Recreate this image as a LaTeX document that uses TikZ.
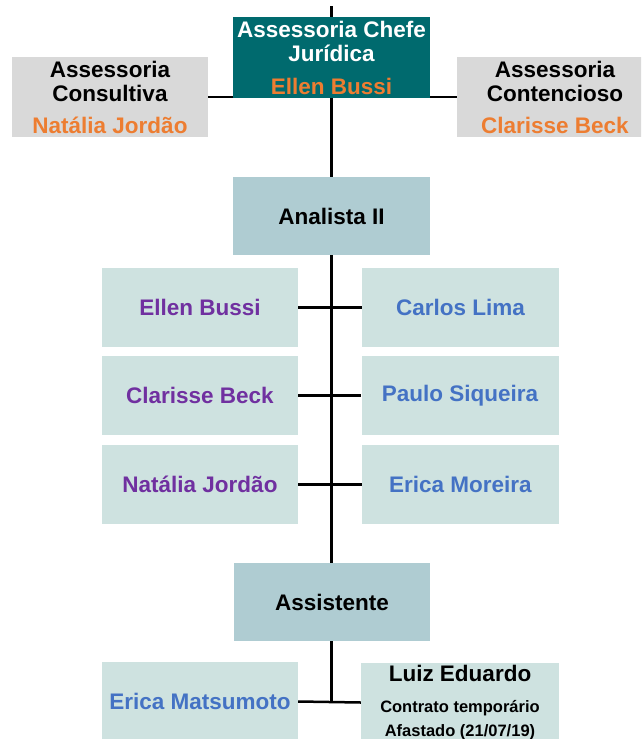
\documentclass[tikz,border=0pt]{standalone}
\usepackage{fontspec}
\setmainfont{Liberation Sans}
\usetikzlibrary{backgrounds}
\definecolor{tealbox}{HTML}{006A6E}
\definecolor{orng}{HTML}{ED7D31}
\definecolor{greyb}{HTML}{D9D9D9}
\definecolor{lvlc}{HTML}{AFCCD2}
\definecolor{rowc}{HTML}{CEE2E0}
\definecolor{purp}{HTML}{7030A0}
\definecolor{blu}{HTML}{4472C4}
\newcommand{\smallline}[1]{{\fontsize{16.5}{23}\selectfont #1}}
\begin{document}
\begin{tikzpicture}[x=1pt,y=-1pt,
  box/.style={rectangle, inner sep=0pt, minimum width=196pt, minimum height=79pt,
    align=center, font=\bfseries\fontsize{22.5}{24}\selectfont},
  headbox/.style={box, fill=tealbox, text=white},
  sidebox/.style={box, fill=greyb, text=black},
  lvlbox/.style={box, fill=lvlc, text=black},
  pbox/.style={box, fill=rowc, text=purp},
  bbox/.style={box, fill=rowc, text=blu},
  link/.style={line width=2.5pt, black}]
\useasboundingbox (0,0) rectangle (641,739);
\clip (0,0) rectangle (641,739);
\node[headbox, minimum width=197pt, minimum height=81pt] (chefe) at (331.5,57.5)
  {Assessoria Chefe\\Jurídica\\[9pt]\textcolor{orng}{Ellen Bussi}};
\node[sidebox, minimum height=80pt] (cons) at (110,97)
  {Assessoria\\Consultiva\\[8pt]\textcolor{orng}{Natália Jordão}};
\node[sidebox, minimum height=80pt] (cont) at (555,97)
  {Assessoria\\Contencioso\\[8pt]\textcolor{orng}{Clarisse Beck}};
\node[lvlbox, minimum width=197pt, minimum height=78pt] (an) at (331.5,216) {Analista II};
\node[pbox] (l1) at (200,307.5) {Ellen Bussi};
\node[bbox, minimum width=197pt] (r1) at (460.5,307.5) {Carlos Lima};
\node[pbox] (l2) at (200,395.5) {Clarisse Beck};
\node[bbox, minimum width=197pt] (r2) at (460,395.5) {Paulo Siqueira};
\node[pbox] (l3) at (200,484.5) {Natália Jordão};
\node[bbox, minimum width=197pt] (r3) at (460.5,484.5) {Erica Moreira};
\node[lvlbox, minimum height=78pt] (as) at (332,602) {Assistente};
\node[bbox] (em) at (200,701.5) {Erica Matsumoto};
\node[box, fill=rowc, text=black, minimum width=198pt] (lz) at (460,702.5)
  {Luiz Eduardo\\[7pt]\smallline{Contrato temporário}\\\smallline{Afastado (21/07/19)}};
\coordinate (topc) at (331.5,6);
\begin{scope}[on background layer]
  \fill[white] (0,0) rectangle (641,739);
  \draw[link] (topc) -- (topc |- em.east);
  \draw[link] (cons.east) -- (cont.west);
  \draw[link] (l1.east) -- (r1.west);
  \draw[link] (l2.east) -- (r2.west);
  \draw[link] (l3.east) -- (r3.west);
  \draw[link] (em.east) -- (lz.west);
\end{scope}
\end{tikzpicture}
\end{document}
